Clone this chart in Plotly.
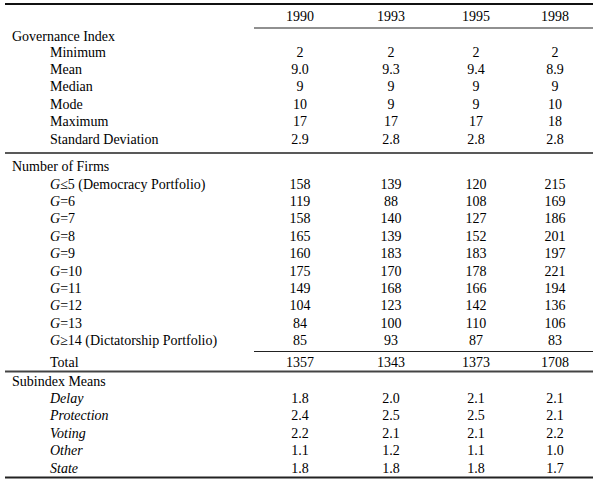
import plotly.graph_objects as go

years = ["1990", "1993", "1995", "1998"]

gov_title = "Governance Index"
gov_labels = ["Minimum", "Mean", "Median", "Mode", "Maximum", "Standard Deviation"]
gov_1990 = ["2", "9.0", "9", "10", "17", "2.9"]
gov_1993 = ["2", "9.3", "9", "9", "17", "2.8"]
gov_1995 = ["2", "9.4", "9", "9", "17", "2.8"]
gov_1998 = ["2", "8.9", "9", "10", "18", "2.8"]

firm_title = "Number of Firms"
firm_labels = ["<i>G</i>≤5 (Democracy Portfolio)", "<i>G</i>=6", "<i>G</i>=7", "<i>G</i>=8",
               "<i>G</i>=9", "<i>G</i>=10", "<i>G</i>=11", "<i>G</i>=12", "<i>G</i>=13",
               "<i>G</i>≥14 (Dictatorship Portfolio)"]
firm_1990 = [158, 119, 158, 165, 160, 175, 149, 104, 84, 85]
firm_1993 = [139, 88, 140, 139, 183, 170, 168, 123, 100, 93]
firm_1995 = [120, 108, 127, 152, 183, 178, 166, 142, 110, 87]
firm_1998 = [215, 169, 186, 201, 197, 221, 194, 136, 106, 83]

total_label = "Total"
total_values = [1357, 1343, 1373, 1708]

sub_title = "Subindex Means"
sub_labels = ["<i>Delay</i>", "<i>Protection</i>", "<i>Voting</i>", "<i>Other</i>", "<i>State</i>"]
sub_1990 = ["1.8", "2.4", "2.2", "1.1", "1.8"]
sub_1993 = ["2.0", "2.5", "2.1", "1.2", "1.8"]
sub_1995 = ["2.1", "2.5", "2.1", "1.1", "1.8"]
sub_1998 = ["2.1", "2.1", "2.2", "1.0", "1.7"]

# ---- layout geometry (pixel space) ----
W, H = 600, 484
col_x = [300, 391, 476, 555]
x_title = 12
x_indent = 50
step = 17.4
FONT = "Liberation Serif, Times New Roman, serif"
FS = 14

fig = go.Figure()

def add_text(xs, ys, texts, pos):
    fig.add_trace(go.Scatter(
        x=xs, y=ys, text=texts, mode="text", textposition=pos,
        textfont=dict(family=FONT, size=FS, color="black"),
        hoverinfo="skip", showlegend=False, cliponaxis=False))

# header
add_text(col_x, [17] * 4, years, "middle center")

# governance section
add_text([x_title], [37], [gov_title], "middle right")
gy = [53 + step * i for i in range(len(gov_labels))]
add_text([x_indent] * len(gov_labels), gy, gov_labels, "middle right")
for cx, vals in zip(col_x, [gov_1990, gov_1993, gov_1995, gov_1998]):
    add_text([cx] * len(vals), gy, vals, "middle center")

# firms section
add_text([x_title], [167], [firm_title], "middle right")
fy = [185 + step * i for i in range(len(firm_labels))]
add_text([x_indent] * len(firm_labels), fy, firm_labels, "middle right")
for cx, vals in zip(col_x, [firm_1990, firm_1993, firm_1995, firm_1998]):
    add_text([cx] * len(vals), fy, [str(v) for v in vals], "middle center")

add_text([x_indent], [363], [total_label], "middle right")
add_text(col_x, [363] * 4, [str(v) for v in total_values], "middle center")

# subindex section
add_text([x_title], [382], [sub_title], "middle right")
sy = [399.5 + step * i for i in range(len(sub_labels))]
add_text([x_indent] * len(sub_labels), sy, sub_labels, "middle right")
for cx, vals in zip(col_x, [sub_1990, sub_1993, sub_1995, sub_1998]):
    add_text([cx] * len(vals), sy, vals, "middle center")

# rules
rules = [
    (5, 593, 4, 2.0, "#111"),
    (254, 593, 28, 1.2, "#222"),
    (5, 593, 153, 1.6, "#222"),
    (254, 593, 351.5, 1.2, "#222"),
    (5, 593, 371.5, 2.0, "#444"),
    (5, 593, 477.5, 2.0, "#222"),
]
for x0, x1, y, w, c in rules:
    fig.add_shape(type="line", x0=x0, x1=x1, y0=y, y1=y, xref="x", yref="y",
                  line=dict(color=c, width=w))

fig.update_layout(
    width=W, height=H,
    margin=dict(l=0, r=0, t=0, b=0),
    paper_bgcolor="white", plot_bgcolor="white",
    xaxis=dict(range=[0, W], visible=False, fixedrange=True),
    yaxis=dict(range=[H, 0], visible=False, fixedrange=True),
)

fig.write_html("out.html", config={"displayModeBar": False},
               post_script="document.body.style.margin='0';document.body.style.overflow='hidden';")
